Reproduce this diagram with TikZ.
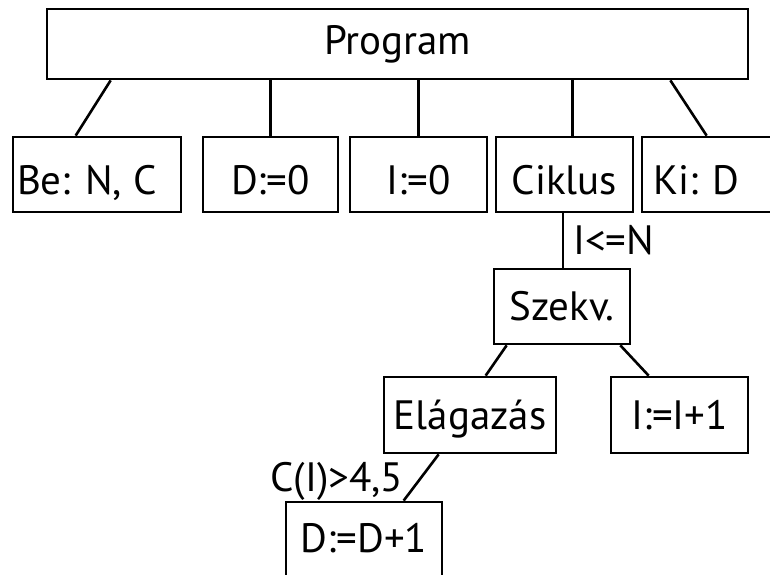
\documentclass[tikz,border=0pt]{standalone}
\usepackage{fontspec}
\setmainfont{PT Sans}
\begin{document}
\begin{tikzpicture}[x=1pt,y=-1pt,
  box/.style={draw, line width=2.7pt, inner sep=0pt, font=\fontsize{41}{43}\selectfont},
  conn/.style={line width=2.6pt},
  lbl/.style={inner sep=0pt, anchor=base west, font=\fontsize{41}{43}\selectfont}]
\useasboundingbox (0,0) rectangle (770,574);
% top
\node[box, minimum width=701pt, minimum height=70pt, text height=28pt, text depth=8pt] (prog) at (397.5,44) {Program};
% children
\node[box, minimum width=168pt, minimum height=75pt, text height=47pt, text depth=8pt,
      text width=160pt, align=flush left, inner xsep=4pt] (be) at (97,174.5) {Be: N, C};
\node[box, minimum width=135pt, minimum height=75pt, text height=47pt, text depth=8pt] (d0) at (270.5,174.5) {D:=0};
\node[box, minimum width=137pt, minimum height=75pt, text height=47pt, text depth=8pt] (i0) at (418.5,174.5) {I:=0};
\node[box, minimum width=137pt, minimum height=75pt, text height=47pt, text depth=8pt] (cik) at (564.5,174.5) {Ciklus};
\node[box, minimum width=148pt, minimum height=75pt, text height=47pt, text depth=8pt,
      text width=126pt, align=flush left, inner xsep=11pt] (ki) at (716,174.5) {Ki: D};
% loop body
\node[box, minimum width=136pt, minimum height=75pt, text height=35pt, text depth=8pt] (szekv) at (562,306.5) {Szekv.};
\node[box, minimum width=172pt, minimum height=76pt, text height=36pt, text depth=8pt] (elag) at (470,415) {Elágazás};
\node[box, minimum width=137pt, minimum height=76pt, text height=36pt, text depth=8pt] (inc) at (679.5,415) {I:=I+1};
\node[box, minimum width=156pt, minimum height=100pt, text height=28pt, text depth=28pt] (dd) at (364,552) {D:=D+1};
% connectors
\draw[conn] ([xshift=65pt]prog.south west) -- ([xshift=64pt]be.north west);
\draw[conn] (prog.south -| d0.north) -- (d0.north);
\draw[conn] (prog.south -| i0.north) -- (i0.north);
\draw[conn] ([xshift=8pt]prog.south -| cik.north) -- ([xshift=8pt]cik.north);
\draw[conn] ([xshift=-79pt]prog.south east) -- ([xshift=66pt]ki.north west);
\draw[conn] ([xshift=-1.5pt]cik.south) -- ([xshift=1pt]szekv.north);
\draw[conn] ([xshift=14pt]szekv.south west) -- ([xshift=103pt]elag.north west);
\draw[conn] ([xshift=-11pt]szekv.south east) -- ([xshift=39pt]inc.north west);
\draw[conn] ([xshift=56pt]elag.south west) -- ([xshift=119pt]dd.north west);
% labels
\node[lbl] (lcik) at (573,254) {I<=N};
\node[lbl] (lelag) at (270,491) {C(I)>4,5};
\end{tikzpicture}
\end{document}
